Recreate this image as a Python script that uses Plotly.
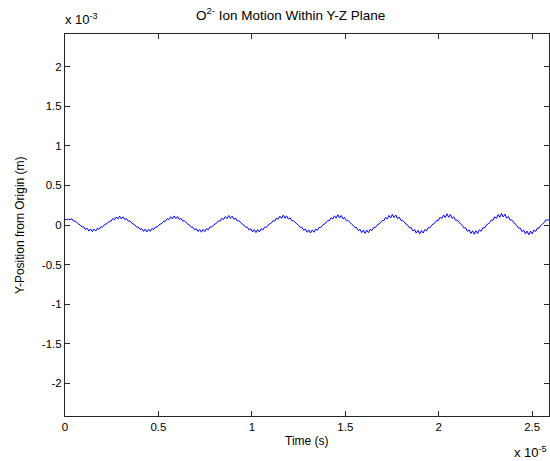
import plotly.graph_objects as go

# Sampling step of the trace, in units of 1e-5 s
TIME_STEP = 0.009125

# Y-position (units of 1e-3 m), one value per sample
y_pos = [
    0.072, 0.068, 0.074, 0.066, 0.080, 0.048, 0.049, 0.024, 0.012, 0.000, -0.025, -0.024, -0.056, -0.041, -0.077, -0.051,
    -0.084, -0.051, -0.077, -0.041, -0.056, -0.024, -0.025, 0.000, 0.012, 0.024, 0.049, 0.048, 0.080, 0.065, 0.101, 0.075,
    0.112, 0.077, 0.104, 0.067, 0.082, 0.049, 0.050, 0.025, 0.012, -0.001, -0.026, -0.025, -0.058, -0.043, -0.080, -0.053,
    -0.088, -0.053, -0.080, -0.043, -0.058, -0.025, -0.026, -0.001, 0.012, 0.025, 0.050, 0.049, 0.082, 0.067, 0.104, 0.077,
    0.115, 0.080, 0.107, 0.069, 0.085, 0.050, 0.052, 0.025, 0.012, -0.001, -0.028, -0.026, -0.061, -0.045, -0.083, -0.056,
    -0.091, -0.056, -0.083, -0.045, -0.061, -0.026, -0.028, -0.001, 0.012, 0.025, 0.052, 0.050, 0.085, 0.069, 0.107, 0.080,
    0.120, 0.083, 0.112, 0.072, 0.088, 0.052, 0.053, 0.026, 0.012, -0.002, -0.029, -0.028, -0.064, -0.048, -0.088, -0.059,
    -0.096, -0.059, -0.088, -0.048, -0.064, -0.028, -0.029, -0.002, 0.012, 0.026, 0.053, 0.052, 0.088, 0.072, 0.112, 0.083,
    0.125, 0.086, 0.116, 0.075, 0.092, 0.054, 0.055, 0.027, 0.012, -0.003, -0.031, -0.030, -0.068, -0.051, -0.092, -0.062,
    -0.101, -0.062, -0.092, -0.051, -0.068, -0.030, -0.031, -0.003, 0.012, 0.027, 0.055, 0.054, 0.092, 0.075, 0.116, 0.086,
    0.130, 0.089, 0.121, 0.077, 0.095, 0.056, 0.057, 0.027, 0.012, -0.003, -0.033, -0.032, -0.071, -0.053, -0.097, -0.065,
    -0.106, -0.065, -0.097, -0.053, -0.071, -0.032, -0.033, -0.003, 0.012, 0.027, 0.057, 0.056, 0.095, 0.077, 0.121, 0.089,
    0.136, 0.093, 0.126, 0.081, 0.099, 0.058, 0.059, 0.028, 0.012, -0.004, -0.035, -0.034, -0.075, -0.057, -0.102, -0.069,
    -0.112, -0.069, -0.102, -0.057, -0.075, -0.034, -0.035, -0.004, 0.012, 0.028, 0.059, 0.058, 0.099, 0.081, 0.126, 0.093,
    0.142, 0.097, 0.132, 0.084, 0.104, 0.060, 0.062, 0.029, 0.012, -0.005, -0.038, -0.036, -0.080, -0.060, -0.108, -0.073,
    -0.118, -0.073, -0.108, -0.060, -0.080, -0.036, -0.038, -0.005, 0.012, 0.029, 0.062, 0.060, 0.104, 0.084, 0.132, 0.097,
    0.148, 0.101, 0.137, 0.087, 0.108, 0.062, 0.064, 0.030, 0.012, -0.006, -0.040, -0.038, -0.084, -0.063, -0.113, -0.077,
    -0.124, -0.077, -0.113, -0.063, -0.084, -0.038, -0.040, -0.006, 0.012, 0.030, 0.064, 0.062, 0.070,
]
time_s = [i * TIME_STEP for i in range(len(y_pos))]

x_ticks = [0, 0.5, 1, 1.5, 2, 2.5]
x_tick_labels = ["0", "0.5", "1", "1.5", "2", "2.5"]
y_ticks = [-2, -1.5, -1, -0.5, 0, 0.5, 1, 1.5, 2]
y_tick_labels = ["-2", "-1.5", "-1", "-0.5", "0", "0.5", "1", "1.5", "2"]

title_text = "O<sup>2-</sup> Ion Motion Within Y-Z Plane"
x_title = "Time (s)"
y_title = "Y-Position from Origin (m)"

FONT = "Liberation Sans, Arial, sans-serif"
AX = "#262626"

fig = go.Figure()
fig.add_trace(go.Scatter(x=time_s, y=y_pos, mode="lines",
                         line=dict(color="#0000ff", width=1), showlegend=False,
                         hoverinfo="skip"))

common = dict(showgrid=False, zeroline=False, showline=True, linecolor=AX, linewidth=1,
              mirror="ticks", ticks="inside", ticklen=5, tickcolor=AX, tickwidth=1,
              tickfont=dict(family=FONT, size=11.5, color="#000000"))

fig.update_xaxes(range=[0, 2.59], tickmode="array", tickvals=x_ticks, ticktext=x_tick_labels, **common)
fig.update_yaxes(range=[-2.415, 2.415], tickmode="array", tickvals=y_ticks, ticktext=y_tick_labels, **common)

lab_font = dict(family=FONT, size=12, color="#000000")
fig.update_layout(
    width=550, height=461,
    margin=dict(l=65, r=1, t=34, b=45),
    paper_bgcolor="white", plot_bgcolor="white",
    font=dict(family=FONT, size=12, color="#000000"),
    annotations=[
        dict(text=title_text, xref="paper", yref="paper", x=0.465, y=1.052,
             xanchor="center", yanchor="middle", showarrow=False,
             font=dict(family=FONT, size=13.5, color="#000000")),
        dict(text="x 10<sup>-3</sup>", xref="paper", yref="paper", x=-0.004, y=1.04,
             xanchor="left", yanchor="middle", showarrow=False,
             font=dict(family=FONT, size=13, color="#000000")),
        dict(text="x 10<sup>-5</sup>", xref="paper", yref="paper", x=0.999, y=-0.094,
             xanchor="right", yanchor="middle", showarrow=False,
             font=dict(family=FONT, size=13, color="#000000")),
        dict(text=x_title, xref="paper", yref="paper", x=0.5, y=-0.066,
             xanchor="center", yanchor="middle", showarrow=False, font=lab_font),
        dict(text=y_title, xref="paper", yref="paper", x=-0.093, y=0.5,
             xanchor="center", yanchor="middle", textangle=-90, showarrow=False, font=lab_font),
    ],
)

fig.write_html("out.html")
